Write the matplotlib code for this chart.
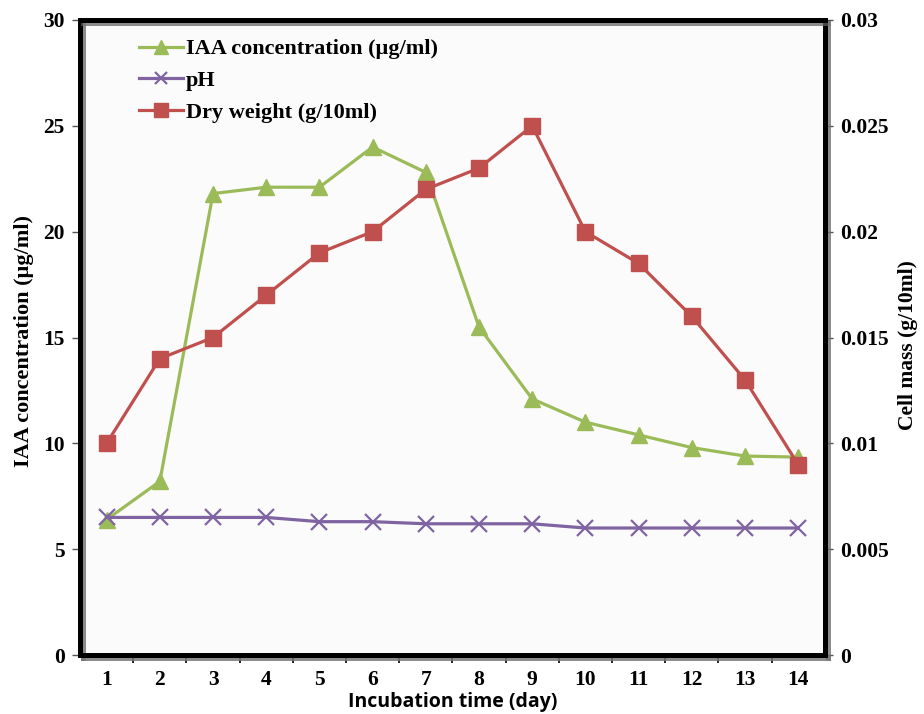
import matplotlib
matplotlib.use("Agg")
import matplotlib.pyplot as plt
import matplotlib.patheffects as pe
import numpy as np

days = [1, 2, 3, 4, 5, 6, 7, 8, 9, 10, 11, 12, 13, 14]
iaa = [6.4, 8.2, 21.8, 22.1, 22.1, 24.0, 22.8, 15.5, 12.1, 11.0, 10.4, 9.8, 9.4, 9.35]
ph = [6.5, 6.5, 6.5, 6.5, 6.3, 6.3, 6.2, 6.2, 6.2, 6.0, 6.0, 6.0, 6.0, 6.0]
dry_weight = [0.010, 0.014, 0.015, 0.017, 0.019, 0.020, 0.022, 0.023, 0.025, 0.020, 0.0185, 0.016, 0.013, 0.009]

left_ticks = [0, 5, 10, 15, 20, 25, 30]
right_ticks = [0, 0.005, 0.01, 0.015, 0.02, 0.025, 0.03]
right_tick_labels = ["0", "0.005", "0.01", "0.015", "0.02", "0.025", "0.03"]

GREEN = "#9BBB59"
PURPLE = "#8064A2"
RED = "#C0504D"

serif = "Liberation Serif"
sans = "Open Sans"
TICK_FS = 15.5
LABEL_FS = 16

fig = plt.figure(figsize=(9.24, 7.14), dpi=100)
ax = fig.add_axes([0.0866, 0.0826, 0.806, 0.8894])
ax2 = ax.twinx()
ax.set_facecolor("#fbfbfb")

l1, = ax.plot(days, iaa, color=GREEN, lw=2.3, marker="^", ms=12, mec=GREEN, mfc=GREEN,
              label="IAA concentration (µg/ml)", zorder=3)
l2, = ax.plot(days, ph, color=PURPLE, lw=2.3, marker="x", ms=11, mew=1.6, mec=PURPLE,
              label="pH", zorder=3)
l3, = ax2.plot(days, dry_weight, color=RED, lw=2.3, marker="s", ms=12, mec=RED, mfc=RED,
               label="Dry weight (g/10ml)", zorder=3)

ax.set_xlim(0.5, 14.5)
ax.set_ylim(0, 30)
ax2.set_ylim(0, 0.03)

ax.set_yticks(left_ticks)
ax.set_yticklabels([str(t) for t in left_ticks], fontfamily=serif, fontweight="bold", fontsize=TICK_FS)
ax2.set_yticks(right_ticks)
ax2.set_yticklabels(right_tick_labels, fontfamily=serif, fontweight="bold", fontsize=TICK_FS)

ax.set_xticks(days)
ax.set_xticklabels([str(d) for d in days], fontfamily=serif, fontweight="bold", fontsize=TICK_FS)
ax.set_xticks(np.arange(1.5, 14.5, 1.0), minor=True)
ax.tick_params(axis="x", which="major", length=0, pad=11)
ax.tick_params(axis="x", which="minor", length=6, width=1.2, direction="out", color="black")
ax.tick_params(axis="y", length=6, width=1.0, direction="out", pad=5, color="#555555")
ax2.tick_params(axis="y", length=6, width=1.0, direction="out", pad=5, color="#555555")

shadow = [pe.SimpleLineShadow(offset=(2.5, -2.5), shadow_color="#777777", alpha=0.6), pe.Normal()]
for a in (ax, ax2):
    for s in a.spines.values():
        s.set_linewidth(3.6)
        s.set_color("black")
        s.set_path_effects(shadow)

ax.set_xlabel("Incubation time (day)", fontfamily=sans, fontweight="bold", fontsize=14, labelpad=1)
ax.set_ylabel("IAA concentration (µg/ml)", fontfamily=serif, fontweight="bold", fontsize=LABEL_FS)
ax.yaxis.set_label_coords(-0.062, 0.495)
ax2.set_ylabel("Cell mass (g/10ml)", fontfamily=serif, fontweight="bold", fontsize=15.5,
               rotation=90)
ax2.yaxis.set_label_coords(1.098, 0.488)

leg = ax.legend(handles=[l1, l2, l3], loc="upper left", bbox_to_anchor=(0.058, 0.995),
                frameon=False, prop={"family": serif, "weight": "bold", "size": LABEL_FS},
                handlelength=2.0, handletextpad=0.12, labelspacing=0.5, borderaxespad=0.3,
                markerscale=0.85)

fig.savefig("out.png", dpi=100, facecolor="white")
